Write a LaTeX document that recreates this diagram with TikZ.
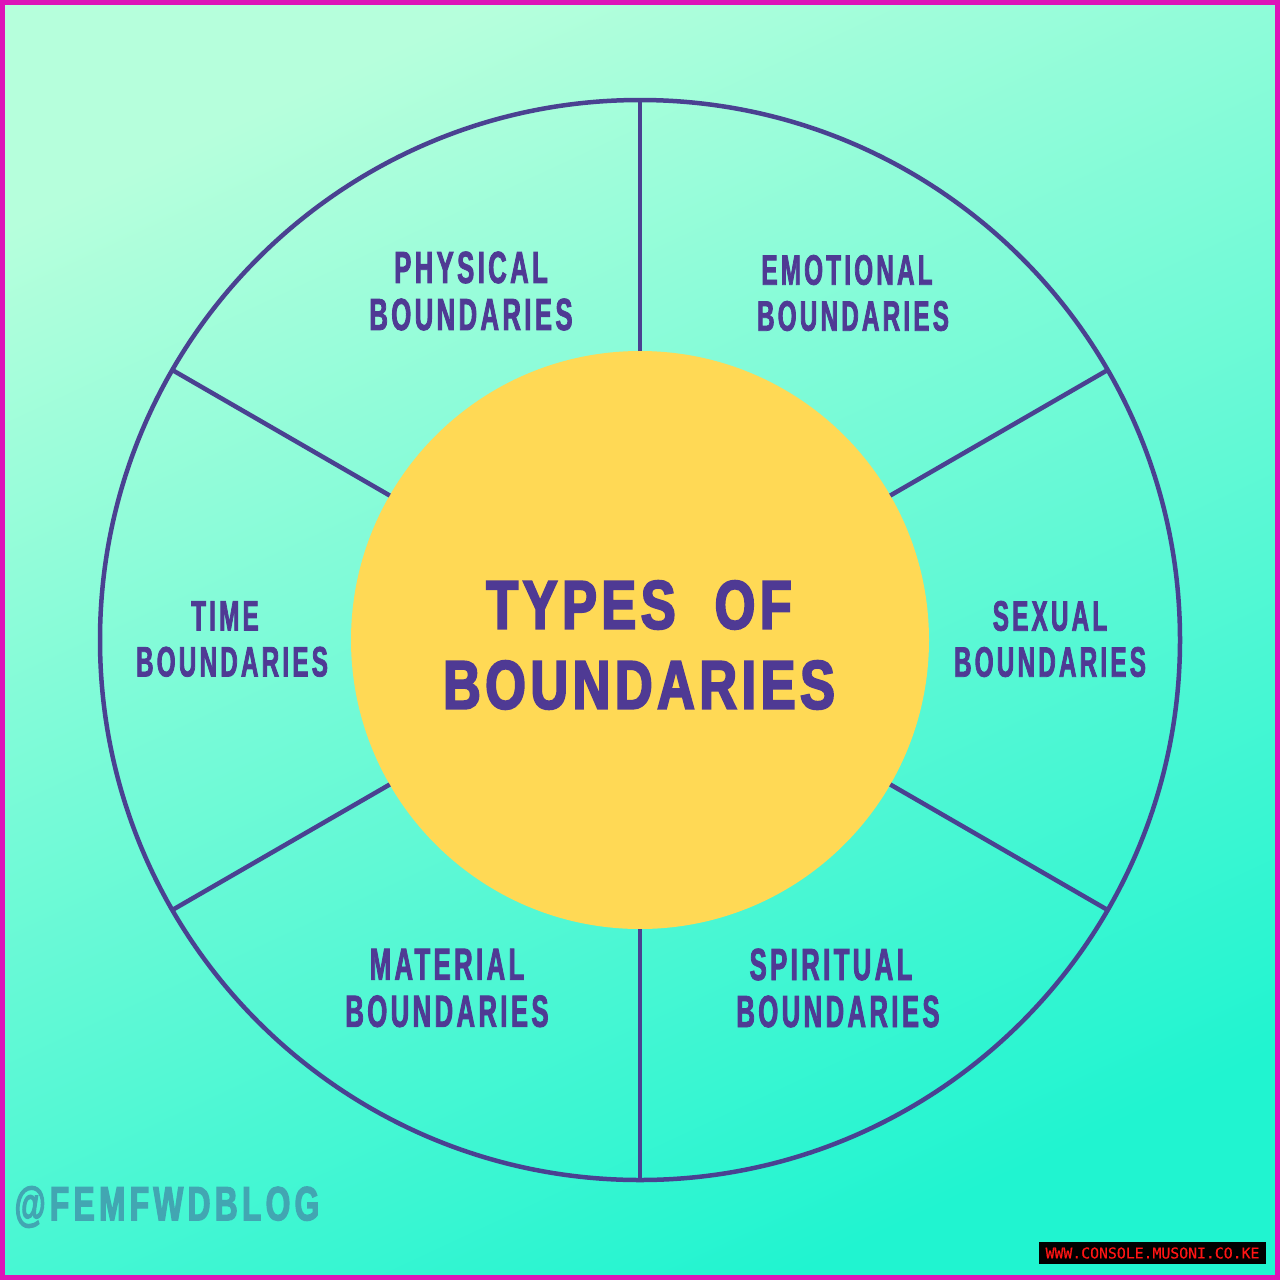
\documentclass[tikz,border=0pt]{standalone}
\usepackage{fontspec}
\setmainfont{Liberation Sans}
\newfontfamily\labfont[FakeStretch=0.57,LetterSpace=7.6,FakeBold=1.8]{Liberation Sans Bold}
\newfontfamily\titlefont[FakeStretch=0.76,LetterSpace=6.7,FakeBold=3]{Liberation Sans Bold}
\newfontfamily\wmfont[FakeStretch=0.66,LetterSpace=9,FakeBold=2.5]{Liberation Sans Bold}
\newfontfamily\urlfont[FakeBold=0.6]{DejaVu Sans Mono}
\definecolor{ink}{HTML}{4F3A94}
\definecolor{ringc}{HTML}{4A4191}
\definecolor{sun}{HTML}{FFD955}
\definecolor{edge}{HTML}{DD14B8}
\definecolor{mark}{HTML}{42A6B2}
\definecolor{light}{HTML}{B6FFDC}
\definecolor{deep}{HTML}{20F4D0}
\newcommand{\lineshift}[2]{\hbox{#2\kern#1pt}}
\tikzset{
  ring/.style={circle,draw=ringc,line width=4.5pt,minimum size=1080pt,inner sep=0pt,outer sep=0pt},
  hub/.style={circle,fill=sun,minimum size=578pt,inner sep=0pt,outer sep=0pt},
  spoke/.style={draw=ringc,line width=4.5pt},
  sectorlabel/.style={inner sep=0pt,align=center,text=ink,font={\fontsize{45}{47}\labfont}},
  smalllabel/.style={inner sep=0pt,align=center,text=ink,font={\fontsize{42.5}{46}\labfont}},
  titlelabel/.style={inner sep=0pt,align=center,text=ink,font={\fontsize{68.6}{80}\titlefont}},
}
\begin{document}
\begin{tikzpicture}[x=1pt,y=-1pt]
\useasboundingbox (0,0) rectangle (1280,1280);
\shade[top color=light,bottom color=deep,shading angle=25] (0,0) rectangle (1280,1280);
\draw[edge,line width=5pt] (2.5,2.5) rectangle (1277.5,1277.5);
\node[ring] (outer) at (640,640) {};
\node[hub] (inner) at (640,640) {};
\foreach \a in {30,90,150,210,270,330}{
  \draw[spoke] (inner.\a) -- (outer.\a);
}
\node[titlelabel] (title) at (639,645) {TYPES\hspace{20pt} OF\\BOUNDARIES};
\node[sectorlabel] (physical) at (471,291) {PHYSICAL\\BOUNDARIES};
\node[smalllabel] (emotional) at (853,293) {\lineshift{12}{EMOTIONAL}\\BOUNDARIES};
\node[smalllabel] (sexual) at (1050,639) {SEXUAL\\BOUNDARIES};
\node[sectorlabel] (spiritual) at (838,988) {\lineshift{14}{SPIRITUAL}\\BOUNDARIES};
\node[sectorlabel] (material) at (447,988) {MATERIAL\\BOUNDARIES};
\node[smalllabel] (timeb) at (232,639) {\lineshift{14}{TIME}\\BOUNDARIES};
\node[inner sep=0pt,text=mark,font={\fontsize{48}{50}\wmfont}] (handle) at (167,1207) {@FEMFWDBLOG};
\node[fill=black,text={rgb,255:red,255;green,20;blue,20},minimum width=227pt,minimum height=22pt,inner sep=0pt,font={\fontsize{14.8}{16}\urlfont}] (url) at (1152.5,1253) {WWW.CONSOLE.MUSONI.CO.KE};
\end{tikzpicture}
\end{document}
